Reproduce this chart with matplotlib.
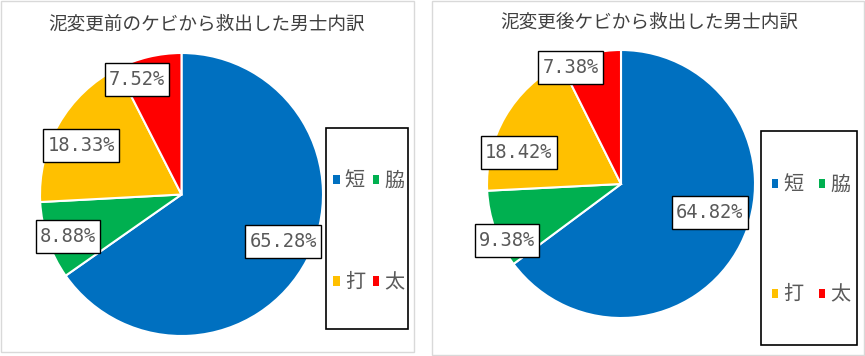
import numpy as np
import matplotlib
matplotlib.use("Agg")
import matplotlib.pyplot as plt
from matplotlib.patches import Rectangle, Patch

# ---------------- data ----------------
categories = ['短', '脇', '打', '太']
before_pct = [65.28, 8.88, 18.33, 7.52]
after_pct = [64.82, 9.38, 18.42, 7.38]
title_before = '泥変更前のケビから救出した男士内訳'
title_after = '泥変更後ケビから救出した男士内訳'

# ---------------- style ----------------
colors = ['#0070C0', '#00B050', '#FFC000', '#FF0000']
TXT = '#595959'
W, H = 865, 356
CJK = ['Noto Sans CJK JP', 'DejaVu Sans']

fig = plt.figure(figsize=(W / 100, H / 100), dpi=100)
fig.patch.set_facecolor('white')


def fx(px):
    return px / W


def fy(py):
    return 1 - py / H


panels = [
    dict(values=before_pct, title=title_before,
         frame=(1, 1, 414, 352), center=(181.5, 194.5), r=141.5,
         title_xy=(207, 25),
         # (angle shift deg, distance in radius units) per label
         lab=[(2.9, 0.79), (1.5, 0.856), (3.8, 0.79), (7.5, 0.874)],
         leg=(326, 128, 408, 329), leg_shift=(2, 3.5), leg_spacing=4.0, colsp=0.4),
    dict(values=after_pct, title=title_after,
         frame=(432, 1, 864, 355), center=(621, 184), r=134,
         title_xy=(649, 23),
         lab=[(9.2, 0.696), (6.4, 0.948), (12.9, 0.798), (10.2, 0.944)],
         leg=(761, 131, 857, 345), leg_shift=(2, 2), leg_spacing=4.4, colsp=0.75),
]

label_texts = []
for p in panels:
    x0, y0, x1, y1 = p['frame']
    fig.patches.append(Rectangle((fx(x0), fy(y1)), fx(x1 - x0), (y1 - y0) / H,
                                 transform=fig.transFigure, fill=False,
                                 edgecolor='#D9D9D9', linewidth=1.0))
    fig.text(fx(p['title_xy'][0]), fy(p['title_xy'][1]), p['title'],
             ha='center', va='center', fontsize=13.4, color='#404040',
             family=CJK)

    cx, cy = p['center']
    r = p['r']
    ax = fig.add_axes([fx(cx - r), fy(cy + r), fx(2 * r), 2 * r / H])
    wedges, _ = ax.pie(p['values'], colors=colors, startangle=90,
                       counterclock=False, radius=1.0,
                       wedgeprops=dict(edgecolor='white', linewidth=1.5))
    ax.set_xlim(-1, 1)
    ax.set_ylim(-1, 1)
    ax.set_aspect('auto')
    ax.axis('off')

    for w, v, (da, dist) in zip(wedges, p['values'], p['lab']):
        mid = np.deg2rad((w.theta1 + w.theta2) / 2 + da)
        t = ax.text(dist * np.cos(mid), dist * np.sin(mid), f'{v:.2f}%',
                    ha='center', va='center', fontsize=13.5, color=TXT,
                    family='DejaVu Sans Mono', zorder=6)
        label_texts.append(t)

    lx0, ly0, lx1, ly1 = p['leg']
    fig.patches.append(Rectangle((fx(lx0), fy(ly1)), fx(lx1 - lx0), (ly1 - ly0) / H,
                                 transform=fig.transFigure, fill=False,
                                 edgecolor='black', linewidth=1.2, zorder=10))
    # order so that column-major fill gives rows: 短 脇 / 打 太
    order = [0, 2, 1, 3]
    handles = [Patch(facecolor=colors[i], edgecolor='none') for i in order]
    labels = [categories[i] for i in order]
    sx, sy = p['leg_shift']
    fig.legend(handles, labels, ncol=2, loc='center',
               bbox_to_anchor=(fx((lx0 + lx1) / 2 + sx), fy((ly0 + ly1) / 2 + sy)),
               frameon=False, prop=dict(family=CJK, size=14.5),
               labelcolor=TXT, handlelength=0.32, handleheight=0.32,
               handletextpad=0.25, columnspacing=p['colsp'],
               labelspacing=p['leg_spacing'], borderpad=0, borderaxespad=0)

# label boxes sized around the rendered text
fig.canvas.draw()
renderer = fig.canvas.get_renderer()
for t in label_texts:
    bb = t.get_window_extent(renderer)
    padx, boxh = 4.0, 33.0
    cyp = (bb.y0 + bb.y1) / 2
    rect = Rectangle((bb.x0 - padx, cyp - boxh / 2), bb.width + 2 * padx, boxh,
                     transform=None, facecolor='white', edgecolor='black',
                     linewidth=1.0, zorder=5, clip_on=False)
    t.axes.add_artist(rect)

fig.savefig('out.png', dpi=100, facecolor='white')
